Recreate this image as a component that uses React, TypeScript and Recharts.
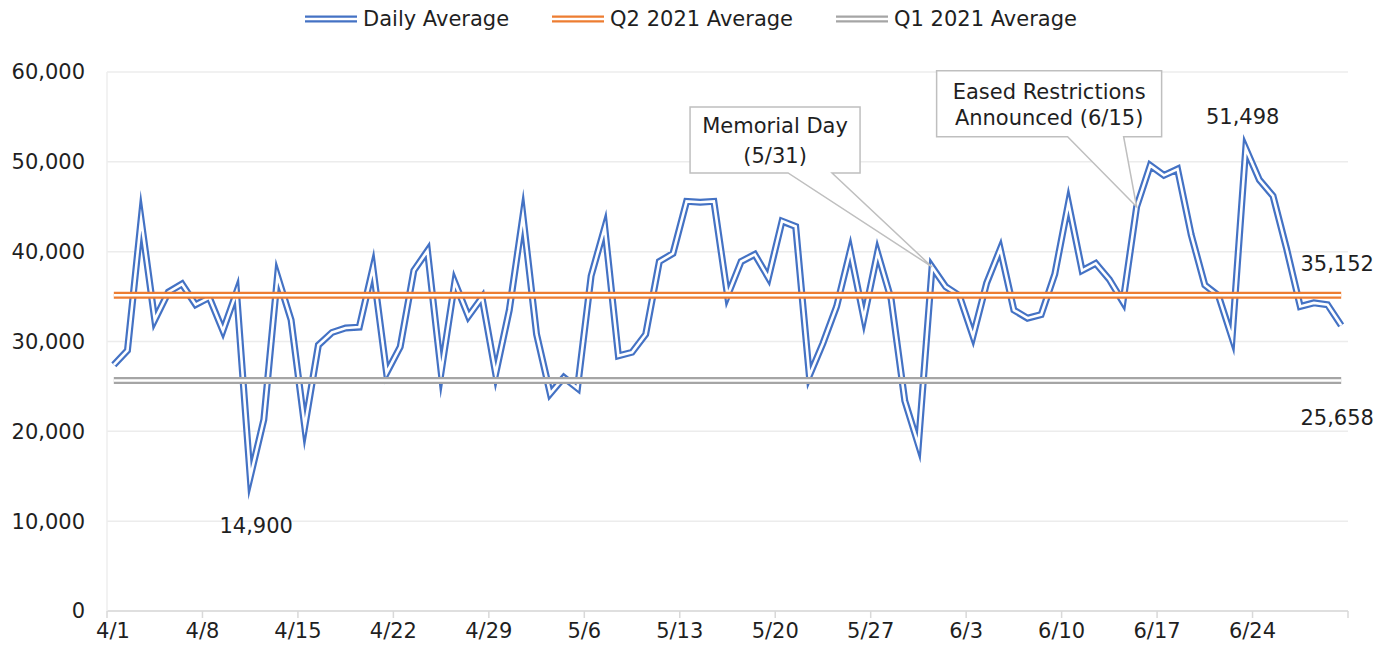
import React from "react";
import { CartesianGrid, Line, LineChart, XAxis, YAxis } from "recharts";

const dates = [
  "4/1", "4/2", "4/3", "4/4", "4/5", "4/6", "4/7", "4/8", "4/9", "4/10",
  "4/11", "4/12", "4/13", "4/14", "4/15", "4/16", "4/17", "4/18", "4/19", "4/20",
  "4/21", "4/22", "4/23", "4/24", "4/25", "4/26", "4/27", "4/28", "4/29", "4/30",
  "5/1", "5/2", "5/3", "5/4", "5/5", "5/6", "5/7", "5/8", "5/9", "5/10",
  "5/11", "5/12", "5/13", "5/14", "5/15", "5/16", "5/17", "5/18", "5/19", "5/20",
  "5/21", "5/22", "5/23", "5/24", "5/25", "5/26", "5/27", "5/28", "5/29", "5/30",
  "5/31", "6/1", "6/2", "6/3", "6/4", "6/5", "6/6", "6/7", "6/8", "6/9",
  "6/10", "6/11", "6/12", "6/13", "6/14", "6/15", "6/16", "6/17", "6/18", "6/19",
  "6/20", "6/21", "6/22", "6/23", "6/24", "6/25", "6/26", "6/27", "6/28", "6/29",
  "6/30"
];

const dailyAverage = [
  27400, 29000, 43600, 32400, 35500, 36400, 34100, 34900, 31200, 35500,
  14900, 21300, 37300, 32400, 20500, 29600, 31000, 31500, 31600, 38200,
  26500, 29400, 37900, 40100, 26600, 36600, 32800, 34900, 26400, 33500,
  44000, 30800, 24200, 26000, 24800, 37300, 42700, 28400, 28800, 30800,
  38900, 39800, 45600, 45500, 45600, 35100, 38900, 39700, 37100, 43400,
  42800, 26200, 29800, 33900, 40100, 32600, 39900, 34700, 23400, 18500,
  38300, 36100, 35100, 30600, 36500, 40300, 33500, 32600, 33000, 37500,
  45400, 37900, 38700, 36900, 34400, 45000, 49600, 48500, 49200, 41900,
  36300, 35100, 30400, 51498, 48000, 46200, 40300, 33900, 34300, 34100,
  31800
];

const q2Average = 35152;
const q1Average = 25658;

const tickLabels = ["4/1", "4/8", "4/15", "4/22", "4/29", "5/6", "5/13", "5/20", "5/27", "6/3", "6/10", "6/17", "6/24"];
const yTicks = [0, 10000, 20000, 30000, 40000, 50000, 60000];

const labelledLow = "4/11";
const labelledHigh = "6/23";
const memorialDay = "5/31";
const easedDay = "6/15";

const FONT = '"DejaVu Sans", sans-serif';
const TEXT = "#1f1f1f";
const BLUE = "#4472C4";
const ORANGE = "#ED7D31";
const GRAY = "#A5A5A5";

const data = dates.map((date, i) => ({
  idx: i,
  date,
  daily: dailyAverage[i],
  q2: q2Average,
  q1: q1Average
}));

// ticks sit on the day boundaries, like an excel date axis
const tickValues = [...tickLabels.map((l) => dates.indexOf(l) - 0.5), dates.length - 0.5];

const fmt = (v: number) => v.toLocaleString("en-US");

function XTick(props: any) {
  const { x, y, payload, index } = props;
  const label = dates[Math.round(payload.value + 0.5)];
  if (!label) return null;
  return (
    <text x={index === 0 ? x + 6 : x} y={y} dy={17} textAnchor="middle" fill={TEXT} fontSize={21} fontFamily={FONT}>
      {label}
    </text>
  );
}

function Callout({ x, y, lines, box, base, textY }: any) {
  const [l, t, r, b] = box;
  const path = `M${x + l},${y + t} H${x + r} V${y + b} H${x + base[1]} L${x},${y} L${x + base[0]},${y + b} H${x + l} Z`;
  const cx = x + (l + r) / 2;
  return (
    <g>
      <path d={path} fill="#fff" stroke="#bfbfbf" strokeWidth={1.5} />
      {lines.map((line: string, i: number) => (
        <text key={line} x={cx} y={y + textY[i]} textAnchor="middle" fill={TEXT} fontSize={21} fontFamily={FONT}>
          {line}
        </text>
      ))}
    </g>
  );
}

function dailyLabel(props: any) {
  const { x, y, index, value } = props;
  const date = dates[index];
  if (date === labelledLow) {
    return (
      <text key="low" x={x + 6} y={y + 56} textAnchor="middle" fill={TEXT} fontSize={21} fontFamily={FONT}>
        {fmt(value)}
      </text>
    );
  }
  if (date === labelledHigh) {
    return (
      <text key="high" x={x - 3} y={y - 24} textAnchor="middle" fill={TEXT} fontSize={21} fontFamily={FONT}>
        {fmt(value)}
      </text>
    );
  }
  if (date === memorialDay) {
    return (
      <Callout
        key="memorial"
        x={x}
        y={y}
        lines={["Memorial Day", "(5/31)"]}
        box={[-242, -160, -72, -94]}
        base={[-144, -100]}
        textY={[-134, -104]}
      />
    );
  }
  if (date === easedDay) {
    return (
      <Callout
        key="eased"
        x={x}
        y={y}
        lines={["Eased Restrictions", "Announced (6/15)"]}
        box={[-200, -136, 25, -70]}
        base={[-69, -13]}
        textY={[-108, -82]}
      />
    );
  }
  return null;
}

function endLabel(offset: number) {
  return (props: any) => {
    const { x, y, index, value } = props;
    if (index !== dates.length - 1) return null;
    return (
      <text key={"end" + offset} x={x - 4} y={y + offset} textAnchor="middle" fill={TEXT} fontSize={21} fontFamily={FONT}>
        {fmt(value)}
      </text>
    );
  };
}

const legendItems = [
  { name: "Daily Average", color: BLUE },
  { name: "Q2 2021 Average", color: ORANGE },
  { name: "Q1 2021 Average", color: GRAY }
];

export default function App() {
  const lineProps = {
    type: "linear" as const,
    dot: false,
    activeDot: false,
    isAnimationActive: false,
    strokeLinejoin: "miter" as const,
    strokeMiterlimit: 10
  };

  return (
    <div style={{ position: "absolute", left: 0, top: 0, width: 1382, height: 655, background: "#fff" }}>
      <div
        style={{
          position: "absolute",
          top: 7,
          left: 0,
          width: 1382,
          display: "flex",
          justifyContent: "center",
          gap: 43,
          fontFamily: FONT,
          fontSize: 21,
          color: TEXT,
          zIndex: 2
        }}
      >
        {legendItems.map((item) => (
          <div key={item.name} style={{ display: "flex", alignItems: "center" }}>
            <svg width={52} height={12}>
              <line x1={0} x2={52} y1={6} y2={6} stroke={item.color} strokeWidth={7} />
              <line x1={0} x2={52} y1={6} y2={6} stroke="#fff" strokeWidth={2.6} />
            </svg>
            <span style={{ marginLeft: 6 }}>{item.name}</span>
          </div>
        ))}
      </div>
      <LineChart width={1382} height={655} data={data} margin={{ top: 72, right: 34, bottom: 14, left: 10 }}>
        <CartesianGrid vertical={false} stroke="#ececec" strokeWidth={1.5} />
        <XAxis
          type="number"
          dataKey="idx"
          domain={[-0.5, dates.length - 0.5]}
          ticks={tickValues}
          interval={0}
          height={30}
          tickSize={7}
          tickMargin={3}
          axisLine={{ stroke: "#d9d9d9", strokeWidth: 1.5 }}
          tickLine={{ stroke: "#d9d9d9", strokeWidth: 1.5 }}
          tick={<XTick />}
        />
        <YAxis
          domain={[0, 60000]}
          ticks={yTicks}
          interval={0}
          width={97}
          tickFormatter={fmt}
          axisLine={{ stroke: "#eeeeee", strokeWidth: 1.5 }}
          tickLine={false}
          tickSize={0}
          tickMargin={22}
          tick={{ fill: TEXT, fontSize: 21, fontFamily: FONT }}
        />
        <Line dataKey="daily" stroke={BLUE} strokeWidth={7} {...lineProps} />
        <Line dataKey="daily" stroke="#fff" strokeWidth={2.6} {...lineProps} />
        <Line dataKey="q2" stroke={ORANGE} strokeWidth={7} {...lineProps} />
        <Line dataKey="q2" stroke="#fff" strokeWidth={2.6} {...lineProps} label={endLabel(-24)} />
        <Line dataKey="q1" stroke={GRAY} strokeWidth={7} {...lineProps} />
        <Line dataKey="q1" stroke="#fff" strokeWidth={2.6} {...lineProps} label={endLabel(44)} />
        <Line dataKey="daily" stroke="none" {...lineProps} label={dailyLabel} />
      </LineChart>
    </div>
  );
}
